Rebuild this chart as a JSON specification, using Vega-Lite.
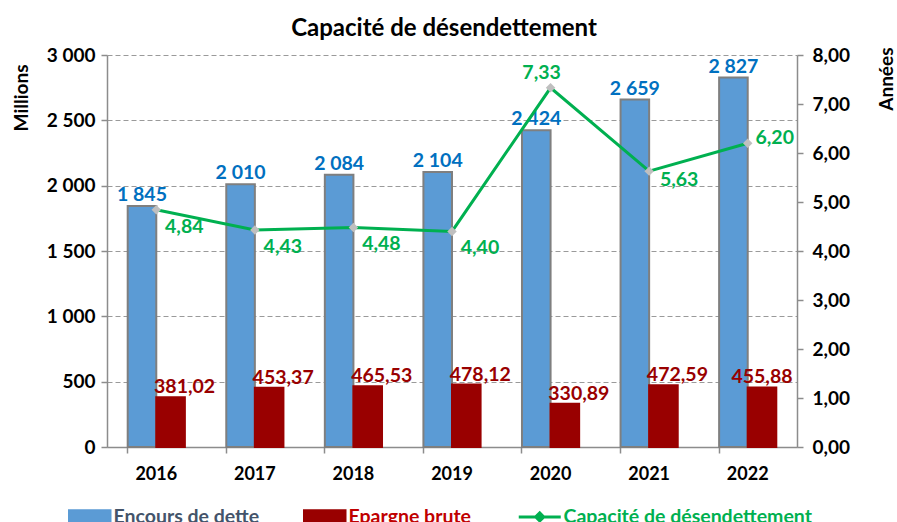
{
  "$schema": "https://vega.github.io/schema/vega-lite/v6.json",
  "width": 690,
  "height": 392,
  "autosize": {"type": "none"},
  "padding": {"left": 107, "top": 55, "right": 100, "bottom": 75},
  "background": "white",
  "config": {
    "locale": {"number": {"decimal": ",", "thousands": " ", "grouping": [3], "currency": ["", " €"]}},
    "font": "Lato",
    "view": {"stroke": null},
    "axis": {
      "labelFont": "Lato", "labelFontWeight": "bold", "labelColor": "#000000",
      "titleFont": "Lato", "titleFontWeight": "bold", "titleColor": "#000000",
      "domainColor": "#8C8C8C", "tickColor": "#8C8C8C", "domainWidth": 1.5, "tickWidth": 1.5, "tickSize": 6
    }
  },
  "title": {"text": "Capacité de désendettement", "font": "Lato", "fontSize": 24, "fontWeight": "bold", "color": "#000000", "anchor": "middle", "dx": -8, "dy": 4, "offset": 9},
  "datasets": {
    "bars": [
      {"year": "2016", "serie": "Encours de dette", "value": 1845},
      {"year": "2016", "serie": "Epargne brute", "value": 381.02},
      {"year": "2017", "serie": "Encours de dette", "value": 2010},
      {"year": "2017", "serie": "Epargne brute", "value": 453.37},
      {"year": "2018", "serie": "Encours de dette", "value": 2084},
      {"year": "2018", "serie": "Epargne brute", "value": 465.53},
      {"year": "2019", "serie": "Encours de dette", "value": 2104},
      {"year": "2019", "serie": "Epargne brute", "value": 478.12},
      {"year": "2020", "serie": "Encours de dette", "value": 2424},
      {"year": "2020", "serie": "Epargne brute", "value": 330.89},
      {"year": "2021", "serie": "Encours de dette", "value": 2659},
      {"year": "2021", "serie": "Epargne brute", "value": 472.59},
      {"year": "2022", "serie": "Encours de dette", "value": 2827},
      {"year": "2022", "serie": "Epargne brute", "value": 455.88}
    ],
    "ratio": [
      {"year": "2016", "value": 4.84},
      {"year": "2017", "value": 4.43},
      {"year": "2018", "value": 4.48},
      {"year": "2019", "value": 4.40},
      {"year": "2020", "value": 7.33},
      {"year": "2021", "value": 5.63},
      {"year": "2022", "value": 6.20}
    ]
  },
  "layer": [
    {
      "data": {"name": "bars"},
      "encoding": {
        "x": {"field": "year", "type": "nominal", "scale": {"paddingInner": 0.42, "paddingOuter": 0.21},
          "axis": {"title": null, "labelAngle": 0, "labelPadding": 12, "labelFontSize": 18, "labelFontWeight": "bold", "bandPosition": 0}},
        "xOffset": {"field": "serie", "type": "nominal", "scale": {"domain": ["Encours de dette", "Epargne brute"], "paddingInner": 0, "paddingOuter": 0}},
        "y": {"field": "value", "type": "quantitative", "scale": {"domain": [0, 3000]},
          "axis": {"title": "Millions", "values": [0, 500, 1000, 1500, 2000, 2500, 3000], "format": ",d", "labelPadding": 6,
            "labelFontSize": 19, "labelFontWeight": "bold", "titleFontSize": 19, "titleFontWeight": "bold",
            "grid": true, "gridDash": [5, 3], "gridColor": "#9A9A9A", "gridWidth": 1,
            "titleAngle": 270, "titleAnchor": "end", "titleAlign": "right", "titleBaseline": "middle", "titleX": -86, "titleY": 9}}
      },
      "layer": [
        {
          "mark": {"type": "bar", "strokeWidth": 2},
          "encoding": {
            "color": {"field": "serie", "type": "nominal",
              "scale": {"domain": ["Encours de dette", "Epargne brute", "Capacité de désendettement"], "range": ["#5B9BD5", "#990000", "#00B050"]},
              "legend": {
                "orient": "none", "legendX": -27, "legendY": 452, "direction": "horizontal", "title": null,
                "labelFont": "Lato", "labelFontSize": 19.5, "labelFontWeight": "bold", "labelOffset": 14, "labelLimit": 400,
                "symbolSize": 400, "columnPadding": 40,
                "encode": {
                  "symbols": {"update": {
                    "shape": {"signal": "datum.value === 'Capacité de désendettement' ? 'M-2.1,0H-0.4M0.4,0H2.1M-0.4,0L0,-0.4L0.4,0L0,0.4Z' : 'M-2.1,-0.7H2.1V0.7H-2.1Z'"},
                    "fill": {"signal": "datum.value === 'Encours de dette' ? '#5B9BD5' : datum.value === 'Epargne brute' ? '#990000' : '#BFBFBF'"},
                    "stroke": {"signal": "datum.value === 'Encours de dette' ? '#7F7F7F' : datum.value === 'Epargne brute' ? '#990000' : '#00B050'"},
                    "strokeWidth": {"signal": "datum.value === 'Capacité de désendettement' ? 3 : 1.5"},
                    "opacity": {"value": 1}, "fillOpacity": {"value": 1}, "strokeOpacity": {"value": 1}
                  }},
                  "labels": {"update": {
                    "fill": {"signal": "datum.value === 'Encours de dette' ? '#44546A' : datum.value === 'Epargne brute' ? '#C00000' : '#00B050'"}
                  }}
                }
              }
            },
            "stroke": {"field": "serie", "type": "nominal", "scale": {"domain": ["Encours de dette", "Epargne brute"], "range": ["#7F7F7F", "#990000"]}, "legend": null}
          }
        },
        {
          "transform": [{"filter": "datum.serie === 'Encours de dette'"}],
          "mark": {"type": "text", "font": "Lato", "fontSize": 19.5, "fontWeight": "bold", "color": "#0070C0", "baseline": "alphabetic", "dy": -5},
          "encoding": {"text": {"field": "value", "type": "quantitative", "format": ",d"}}
        },
        {
          "transform": [{"filter": "datum.serie === 'Epargne brute' && datum.year !== '2022'"}],
          "mark": {"type": "text", "font": "Lato", "fontSize": 19.5, "fontWeight": "bold", "color": "#990000", "baseline": "alphabetic", "dy": -4, "dx": 14},
          "encoding": {"text": {"field": "value", "type": "quantitative", "format": ".2f"}}
        },
        {
          "transform": [{"filter": "datum.serie === 'Epargne brute' && datum.year === '2022'"}],
          "mark": {"type": "text", "font": "Lato", "fontSize": 19.5, "fontWeight": "bold", "color": "#990000", "baseline": "alphabetic", "dy": -4, "dx": 0},
          "encoding": {"text": {"field": "value", "type": "quantitative", "format": ".2f"}}
        }
      ]
    },
    {
      "data": {"name": "ratio"},
      "encoding": {
        "x": {"field": "year", "type": "nominal"},
        "y": {"field": "value", "type": "quantitative", "scale": {"domain": [0, 8]},
          "axis": {"orient": "right", "title": "Années", "values": [0, 1, 2, 3, 4, 5, 6, 7, 8], "format": ".2f", "labelPadding": 9, "grid": false,
            "labelFontSize": 19, "labelFontWeight": "bold", "titleFontSize": 19, "titleFontWeight": "bold",
            "titleAngle": 270, "titleAnchor": "end", "titleAlign": "right", "titleBaseline": "middle", "titleX": 89, "titleY": -8}}
      },
      "layer": [
        {"mark": {"type": "line", "strokeWidth": 3}, "encoding": {"color": {"datum": "Capacité de désendettement", "type": "nominal"}}},
        {"mark": {"type": "point", "shape": "diamond", "filled": true, "size": 90, "color": "#BFBFBF", "opacity": 1}},
        {
          "transform": [{"filter": "datum.year <= '2019'"}],
          "mark": {"type": "text", "font": "Lato", "fontSize": 19.5, "fontWeight": "bold", "color": "#00B050", "baseline": "middle", "dx": 28, "dy": 17},
          "encoding": {"text": {"field": "value", "type": "quantitative", "format": ".2f"}}
        },
        {
          "transform": [{"filter": "datum.year === '2020'"}],
          "mark": {"type": "text", "font": "Lato", "fontSize": 19.5, "fontWeight": "bold", "color": "#00B050", "baseline": "middle", "dx": -9, "dy": -15},
          "encoding": {"text": {"field": "value", "type": "quantitative", "format": ".2f"}}
        },
        {
          "transform": [{"filter": "datum.year === '2021'"}],
          "mark": {"type": "text", "font": "Lato", "fontSize": 19.5, "fontWeight": "bold", "color": "#00B050", "baseline": "middle", "dx": 30, "dy": 9},
          "encoding": {"text": {"field": "value", "type": "quantitative", "format": ".2f"}}
        },
        {
          "transform": [{"filter": "datum.year === '2022'"}],
          "mark": {"type": "text", "font": "Lato", "fontSize": 19.5, "fontWeight": "bold", "color": "#00B050", "baseline": "middle", "dx": 27, "dy": -5},
          "encoding": {"text": {"field": "value", "type": "quantitative", "format": ".2f"}}
        }
      ]
    }
  ],
  "resolve": {"scale": {"y": "independent"}}
}
